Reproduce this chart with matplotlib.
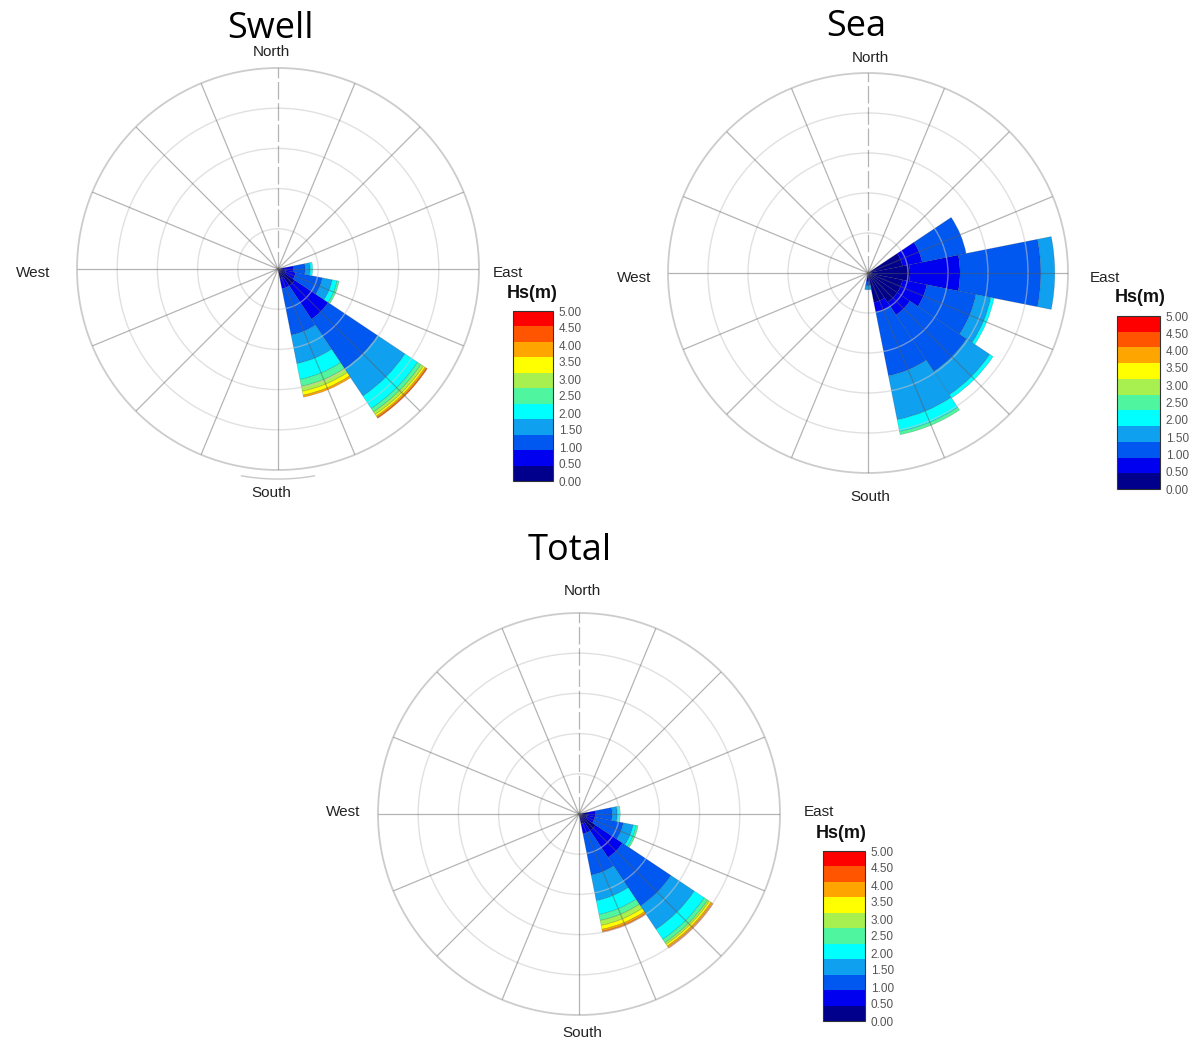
import numpy as np
import matplotlib.pyplot as plt
from matplotlib.colors import ListedColormap, BoundaryNorm
from matplotlib.cm import ScalarMappable

W, H = 1203, 1044

# Hs classes (m) and their colours, lowest class first
hs_labels = ['0.00', '0.50', '1.00', '1.50', '2.00', '2.50',
             '3.00', '3.50', '4.00', '4.50', '5.00']
hs_colors = ['#00008c', '#0000f0', '#0058f0', '#10a0f0', '#00ffff', '#50f5a0',
             '#a8f050', '#ffff00', '#ffa500', '#ff5500', '#ff0000']

# frequency (%) per direction sector, one list per sector, one value per Hs class
swell_dirs = [90, 112.5, 135, 157.5]
swell_pct = [
    [1.5, 2.25, 3.0, 1.25, 0.6, 0, 0, 0, 0, 0, 0],
    [2.0, 2.5, 6.75, 2.5, 1.25, 0.5, 0, 0, 0, 0, 0],
    [5.0, 10.0, 14.75, 8.25, 3.75, 1.0, 0.75, 0.5, 0.4, 0.25, 0],
    [2.5, 2.5, 11.75, 7.25, 4.0, 1.75, 1.25, 1.0, 0.5, 0, 0],
]
swell_rmax = 50

sea_dirs = [67.5, 90, 112.5, 135, 157.5, 180]
sea_pct = [
    [4.4, 2.5, 5.6, 0, 0, 0, 0, 0, 0, 0, 0],
    [5.25, 6.25, 10.1, 1.75, 0, 0, 0, 0, 0, 0, 0],
    [4.4, 3.1, 6.25, 1.9, 0.4, 0, 0, 0, 0, 0, 0],
    [4.4, 1.9, 8.5, 3.5, 0.5, 0, 0, 0, 0, 0, 0],
    [3.75, 1.25, 8.1, 5.6, 1.5, 0.4, 0, 0, 0, 0, 0],
    [0.6, 0.5, 0.5, 0.5, 0, 0, 0, 0, 0, 0, 0],
]
sea_rmax = 25

total_dirs = [90, 112.5, 135, 157.5]
total_pct = [
    [2.0, 2.0, 4.25, 1.25, 0.75, 0, 0, 0, 0, 0, 0],
    [2.0, 2.0, 7.25, 2.5, 0.75, 0.5, 0, 0, 0, 0, 0],
    [5.0, 8.0, 14.5, 7.0, 3.0, 1.0, 0.5, 0.5, 0.4, 0.25, 0],
    [2.5, 2.5, 10.5, 6.5, 3.5, 1.5, 1.25, 1.0, 0.5, 0.25, 0],
]
total_rmax = 50

compass = ['North', 'East', 'South', 'West']

LABEL_FONT = 'Liberation Sans'


def fxy(px, py):
    return px / W, 1 - py / H


def box(cx, cy, r):
    return [(cx - r) / W, 1 - (cy + r) / H, 2 * r / W, 2 * r / H]


def rose(ax, dirs, pct, rmax, south_arc=False):
    ax.set_theta_zero_location('N')
    ax.set_theta_direction(-1)
    ax.set_ylim(0, rmax)
    ax.set_axisbelow(False)
    pct = np.array(pct, dtype=float)
    theta = np.deg2rad(dirs)
    width = 2 * np.pi / 16
    base = np.zeros(len(dirs))
    for k in range(pct.shape[1]):
        m = pct[:, k] > 0
        if m.any():
            ax.bar(theta[m], pct[m, k], width=width, bottom=base[m],
                   color=hs_colors[k], edgecolor=(0.1, 0.1, 0.1, 0.22),
                   linewidth=0.5, zorder=1)
        base += pct[:, k]

    # spokes every 22.5 deg, the north one dashed
    for a in np.arange(0, 360, 22.5):
        ls = (0, (14, 3)) if a == 0 else '-'
        ax.plot([np.deg2rad(a)] * 2, [0, rmax], color='#5a5a5a', alpha=0.45,
                lw=0.9, ls=ls, zorder=3, solid_capstyle='butt')

    ax.set_xticks([])
    ax.set_yticks(np.linspace(0, rmax, 6)[1:-1])
    ax.set_yticklabels([])
    ax.yaxis.grid(True, color='#c8c8c8', alpha=0.55, lw=1.0)
    ax.spines['polar'].set_color('#cccccc')
    ax.spines['polar'].set_linewidth(1.3)

    if south_arc:
        t = np.deg2rad(np.linspace(170, 190, 30))
        ax.plot(t, np.full_like(t, rmax * 1.045), color='#c8c8c8', lw=1.0,
                clip_on=False)


def hs_bar(fig, x0, y0, x1, y1, title_xy):
    cax = fig.add_axes([x0 / W, 1 - y1 / H, (x1 - x0) / W, (y1 - y0) / H])
    cmap = ListedColormap(hs_colors)
    norm = BoundaryNorm(np.arange(len(hs_colors) + 1), len(hs_colors))
    cb = fig.colorbar(ScalarMappable(norm=norm, cmap=cmap), cax=cax)
    cb.set_ticks(np.linspace(0, len(hs_colors), len(hs_labels)))
    cb.set_ticklabels(hs_labels)
    cax.minorticks_off()
    cax.tick_params(which='both', length=0, labelsize=8.5,
                    labelcolor='#555555', pad=4)
    for t in cax.get_yticklabels():
        t.set_fontfamily(LABEL_FONT)
    cb.outline.set_edgecolor('#333333')
    cb.outline.set_linewidth(0.8)
    fig.text(*fxy(*title_xy), 'Hs(m)', ha='center', va='center',
             fontsize=13, fontweight='bold', family=LABEL_FONT, color='#111111')


def labels(fig, n, s, e, w):
    kw = dict(fontsize=11, family=LABEL_FONT, color='#222222', va='center')
    fig.text(*fxy(*n), compass[0], ha='center', **kw)
    fig.text(*fxy(*e), compass[1], ha='left', **kw)
    fig.text(*fxy(*s), compass[2], ha='center', **kw)
    fig.text(*fxy(*w), compass[3], ha='right', **kw)


fig = plt.figure(figsize=(W / 100, H / 100), dpi=100)

# Swell
ax1 = fig.add_axes(box(278, 269, 201), projection='polar')
rose(ax1, swell_dirs, swell_pct, swell_rmax, south_arc=True)
fig.text(*fxy(270, 38), 'Swell', ha='center', va='baseline', fontsize=26,
         family='Open Sans')
labels(fig, (271, 52), (271, 493), (493, 273), (50, 273))
hs_bar(fig, 513, 311, 553, 481, (532, 294))

# Sea
ax2 = fig.add_axes(box(868, 273, 200), projection='polar')
rose(ax2, sea_dirs, sea_pct, sea_rmax)
fig.text(*fxy(856, 36), 'Sea', ha='center', va='baseline', fontsize=26,
         family='Open Sans')
labels(fig, (870, 58), (870, 497), (1090, 278), (651, 278))
hs_bar(fig, 1117, 316, 1160, 489, (1140, 298))

# Total
ax3 = fig.add_axes(box(579, 814, 201), projection='polar')
rose(ax3, total_dirs, total_pct, total_rmax)
fig.text(*fxy(570, 560), 'Total', ha='center', va='baseline', fontsize=26,
         family='Open Sans')
labels(fig, (582, 591), (582, 1033), (804, 812), (360, 812))
hs_bar(fig, 823, 851, 865, 1021, (841, 833))

fig.savefig('out.png', dpi=100)
